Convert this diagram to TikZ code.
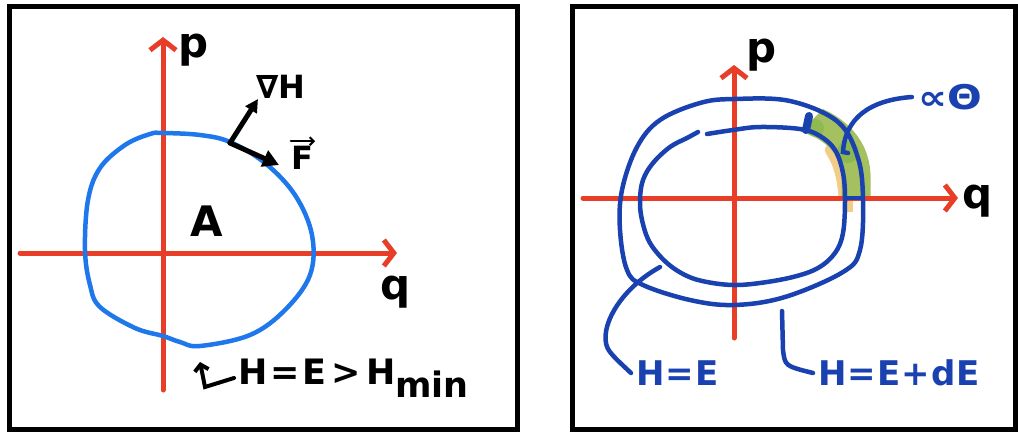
\documentclass[tikz,border=0pt]{standalone}
\usepackage{fontspec}
\setmainfont{DejaVu Sans}
\usetikzlibrary{arrows.meta}
\definecolor{redax}{RGB}{232,62,40}
\definecolor{blueL}{RGB}{30,120,235}
\definecolor{blueR}{RGB}{25,65,175}
\definecolor{greenfill}{RGB}{165,192,95}
\definecolor{greendark}{RGB}{125,180,70}
\definecolor{orangefill}{RGB}{242,205,135}
\tikzset{
  frame/.style={line width=5pt, draw=black},
  axis/.style={draw=redax, line width=5pt, line cap=round, -{Straight Barb[length=10pt,width=26pt,line width=5pt]}},
  curveL/.style={draw=blueL, line width=4.5pt, line cap=round},
  curveR/.style={draw=blueR, line width=4.5pt, line cap=round},
  vecarrow/.style={draw=black, line width=5pt, line cap=round},
  lbl/.style={font=\bfseries\fontsize{32}{34}\selectfont, inner sep=0pt, text=black},
  lblbig/.style={font=\bfseries\fontsize{42}{44}\selectfont, inner sep=0pt, text=black},
  lblR/.style={font=\bfseries\fontsize{34}{36}\selectfont, inner sep=0pt, text=blueR},
}
\begin{document}
\begin{tikzpicture}[x=1pt,y=-1pt]
\useasboundingbox (0,0) rectangle (1018,432);
\fill[white] (0,0) rectangle (1018,432);
% frames
\draw[frame] (9.5,6.5) rectangle (517,429);
\draw[frame] (572.5,6.5) rectangle (1015.5,429);

% ---------- left panel ----------
\coordinate (lpb) at (163,390);
\coordinate (lpt) at (163,37);
\coordinate (lqa) at (20,253);
\coordinate (lqb) at (397,253);
\draw[axis] (lpb) -- (lpt);
\draw[axis] (lqa) -- (lqb);
\node[lblbig] (lp) at (194,50) {p};
\node[lblbig] (lq) at (396,292) {q};

\draw[curveL] plot[smooth cycle, tension=0.6] coordinates {
 (163,133) (200,135) (230,142) (265,163) (295,195) (312,235) (310,275)
 (285,310) (250,335) (200,346) (180,342) (163,336) (135,328) (100,307)
 (90,285) (85,250) (88,200) (100,168) (125,145) (150,134)};

\coordinate (base) at (230,143);
\coordinate (gradtip) at (258,99);
\coordinate (ftip) at (279,165);
\draw[vecarrow, -{Triangle[length=13pt,width=13pt]}] (base) -- (gradtip);
\draw[vecarrow, -{Triangle[length=16pt,width=17pt]}] (base) -- (ftip);
\node[lbl] (gradH) at (281,87) {∇H};
\node[lbl] (F) at (302,158) {F};
\draw[line width=2.5pt, line cap=round, -{Straight Barb[length=4pt,width=8pt,line width=2pt]}]
  ([yshift=5pt]F.north west) -- ([yshift=5pt,xshift=2pt]F.north east);
\node[lblbig] (A) at (207,221) {A};

\node[lbl, anchor=west, font=\bfseries\fontsize{35}{36}\selectfont] (Hlbl) at (238,378) {H\hspace{3pt}=\hspace{3pt}E\hspace{5pt}>\hspace{5pt}H\raisebox{-13pt}{min}};
\coordinate (hk1) at (200,362);
\draw[vecarrow, line width=4pt, {Straight Barb[length=6pt,width=14pt,line width=4pt]}-] (hk1) -- (205,387) -- ([xshift=-4pt]Hlbl.west);

% ---------- right panel ----------
% band between the two level curves
\begin{scope}
  \clip (734,198) -- (932,0) -- (1010,0) -- (1010,202) -- cycle;
  \draw[orangefill, line width=14pt, line cap=round] (832,150) .. controls (842,165) and (846,185) .. (846,212);
  \draw[greenfill, line width=29pt] (790,114) .. controls (832,122) and (855,145) .. (856,175) -- (856,202);
  \fill[greendark, opacity=0.6] (848,152) circle (11pt);
  \fill[greendark, opacity=0.5] (815,128) circle (9pt);
\end{scope}
\fill[orangefill] (843,200) rectangle (853,212);

\coordinate (rpb) at (734,338);
\coordinate (rpt) at (734,65);
\coordinate (rqa) at (583,198);
\coordinate (rqb) at (958,198);
\draw[axis] (rpb) -- (rpt);
\draw[axis] (rqa) -- (rqb);
\node[lblbig] (rp) at (762,55) {p};
\node[lblbig] (rq) at (978,201) {q};

\draw[curveR] plot[smooth cycle, tension=0.6] coordinates {
 (734,99) (790,101) (838,122) (858,158) (863,200) (860,250) (843,272)
 (785,297) (734,305) (690,300) (643,285) (627,270) (620,230) (622,190)
 (637,147) (660,120) (700,103)};
\draw[curveR] plot[smooth, tension=0.6] coordinates {
 (707,134) (733,130) (760,127) (800,129) (820,136) (835,150) (843,173)
 (845,200) (843,233) (835,253) (818,268) (793,277) (760,283) (733,285)
 (707,282) (687,276) (667,263) (650,243) (642,220) (640,200) (643,180)
 (653,163) (670,147) (687,138) (698,132)};
% dark marks on the band
\draw[blueR, line width=8pt, line cap=round] (809,116) -- (806,130);
\draw[blueR, line width=4.5pt] (846,198) -- (862,198);

% labels and leaders
\node[lblR, xscale=1.2] (theta) at (950,97) {∝Θ};
\coordinate (thend) at (843,152);
\draw[curveR] ([xshift=-6pt]theta.west) .. controls (870,100) and (845,118) .. (thend) -- (848,153);

\node[lblR, anchor=west] (HE) at (636,373) {H\hspace{1pt}=\hspace{1pt}E};
\coordinate (he0) at (660,267);
\draw[curveR] (he0) .. controls (615,292) and (596,335) .. (610,352) .. controls (615,358) .. ([xshift=-5pt]HE.west);

\node[lblR, anchor=west] (HEdE) at (818,373) {H\hspace{1pt}=\hspace{1pt}E\hspace{1pt}+\hspace{2pt}dE};
\coordinate (hd0) at (782,311);
\draw[curveR] (hd0) -- (783,350) .. controls (785,366) .. ([xshift=-5pt]HEdE.west);
\end{tikzpicture}
\end{document}
